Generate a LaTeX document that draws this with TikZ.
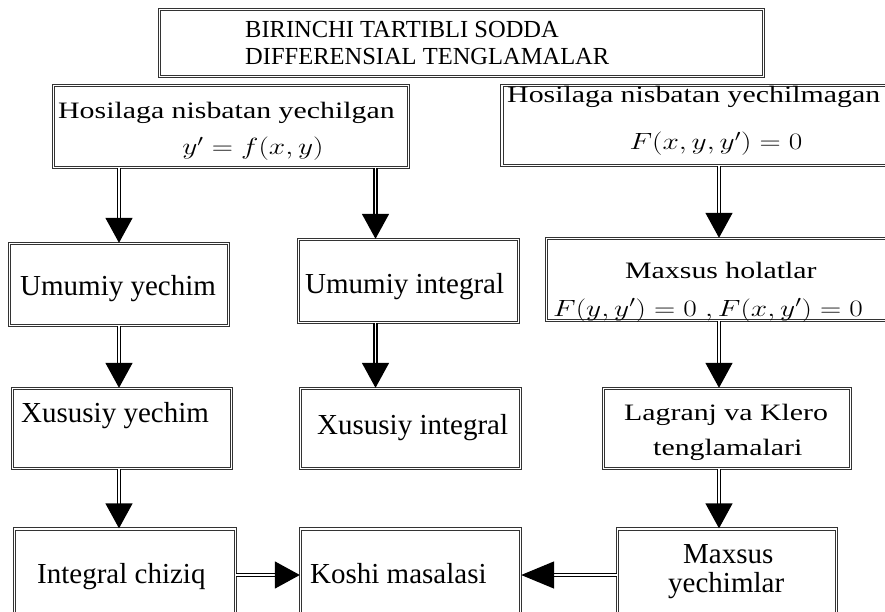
\RequirePackage{fix-cm}
\documentclass[tikz,border=0pt]{standalone}
\usepackage{fontspec}
\setmainfont{Liberation Serif}
\newfontfamily\widefont[FakeStretch=1.27]{Liberation Serif}
\usepackage{graphicx}
\usepackage{tikz}
\usetikzlibrary{arrows.meta}

\newcommand{\wmath}[1]{\scalebox{1.25}[1]{$#1$}}

\tikzset{
  box/.style={draw=black!80, double=white, double distance=1.1pt, line width=1.3pt, fill=white, inner sep=0pt},
  lbl/.style={anchor=base west, inner sep=0pt, font=\fontsize{29}{34}\selectfont},
  wlbl/.style={anchor=base west, inner sep=0pt, font=\widefont\fontsize{23.5}{28}\selectfont},
  mlbl/.style={wlbl, anchor=base},
  hlbl/.style={anchor=base west, inner sep=0pt, font=\fontsize{24.5}{28}\selectfont},
  arr/.style={draw=black, line width=1.3pt, double=white, double distance=1.6pt, -{Triangle[width=27pt,length=25pt]}},
  arrlong/.style={arr, -{Triangle[width=27pt,length=33pt]}}
}

\begin{document}
\begin{tikzpicture}[x=1pt,y=1pt,yscale=-1,xscale=1]
\clip (0,0) rectangle (885,612);
\fill[white] (0,0) rectangle (885,612);

% boxes
\node[box, minimum width=604pt, minimum height=67pt] (hdr) at (461.5,43) {};
\node[box, minimum width=355pt, minimum height=82pt] (solv) at (231,126.5) {};
\node[box, minimum width=386pt, minimum height=80pt] (unsolv) at (695,125.5) {};
\node[box, minimum width=219pt, minimum height=82pt] (genSol) at (119,284.5) {};
\node[box, minimum width=220pt, minimum height=83pt] (genInt) at (408.5,281) {};
\node[box, minimum width=355pt, minimum height=82pt] (special) at (724,279.5) {};
\node[box, minimum width=219pt, minimum height=80pt] (partSol) at (122,428.5) {};
\node[box, minimum width=220pt, minimum height=80pt] (partInt) at (410.5,428.5) {};
\node[box, minimum width=247pt, minimum height=80pt] (lagr) at (727,428.5) {};
\node[box, minimum width=221pt, minimum height=92pt] (intCurve) at (125,575) {};
\node[box, minimum width=220pt, minimum height=92pt] (koshi) at (410.5,575) {};
\node[box, minimum width=219pt, minimum height=92pt] (maxSol) at (727,575) {};

% texts
\node[hlbl] (hdrA) at (245,38) {BIRINCHI TARTIBLI SODDA};
\node[hlbl] (hdrB) at (245,65) {DIFFERENSIAL TENGLAMALAR};
\node[wlbl] (solvA) at (58,119) {Hosilaga nisbatan yechilgan};
\node[mlbl] (solvB) at (253,155) {\wmath{y'=f(x,y)}};
\node[wlbl] (unsolvA) at (507,103) {Hosilaga nisbatan yechilmagan};
\node[mlbl] (unsolvB) at (716,150) {\wmath{F(x,y,y')=0}};
\node[lbl] (genSolT) at (20,295) {Umumiy yechim};
\node[lbl] (genIntT) at (305,293) {Umumiy integral};
\node[wlbl] (specialA) at (625,278) {Maxsus holatlar};
\node[wlbl] (specialB) at (553,316) {\wmath{F(y,y')=0\;,F(x,y')=0}};
\node[lbl] (partSolT) at (21,422) {Xususiy yechim};
\node[lbl] (partIntT) at (317,434) {Xususiy integral};
\node[wlbl] (lagrA) at (624,420) {Lagranj va Klero};
\node[wlbl] (lagrB) at (653,455) {tenglamalari};
\node[lbl] (intCurveT) at (37,583) {Integral chiziq};
\node[lbl] (koshiT) at (310,583) {Koshi masalasi};
\node[lbl] (maxSolA) at (683,563) {Maxsus};
\node[lbl] (maxSolB) at (668,592) {yechimlar};

% connectors
\coordinate (ga) at ([xshift=-33pt]genInt.north);
\coordinate (sa) at ([xshift=-5pt]special.north);
\draw[arr] (genSol.north |- solv.south) -- (genSol.north);
\draw[arr] (ga |- solv.south) -- (ga);
\draw[arr] (sa |- unsolv.south) -- (sa);
\draw[arr] (genSol.south) -- (genSol.south |- partSol.north);
\draw[arr] (ga |- genInt.south) -- (ga |- partInt.north);
\draw[arr] (sa |- special.south) -- (sa |- lagr.north);
\draw[arr] (genSol.south |- partSol.south) -- (genSol.south |- intCurve.north);
\draw[arr] (sa |- lagr.south) -- (sa |- maxSol.north);
\draw[arr] (intCurve.east) -- (koshi.west);
\draw[arrlong] (maxSol.west) -- (koshi.east);
\end{tikzpicture}
\end{document}
